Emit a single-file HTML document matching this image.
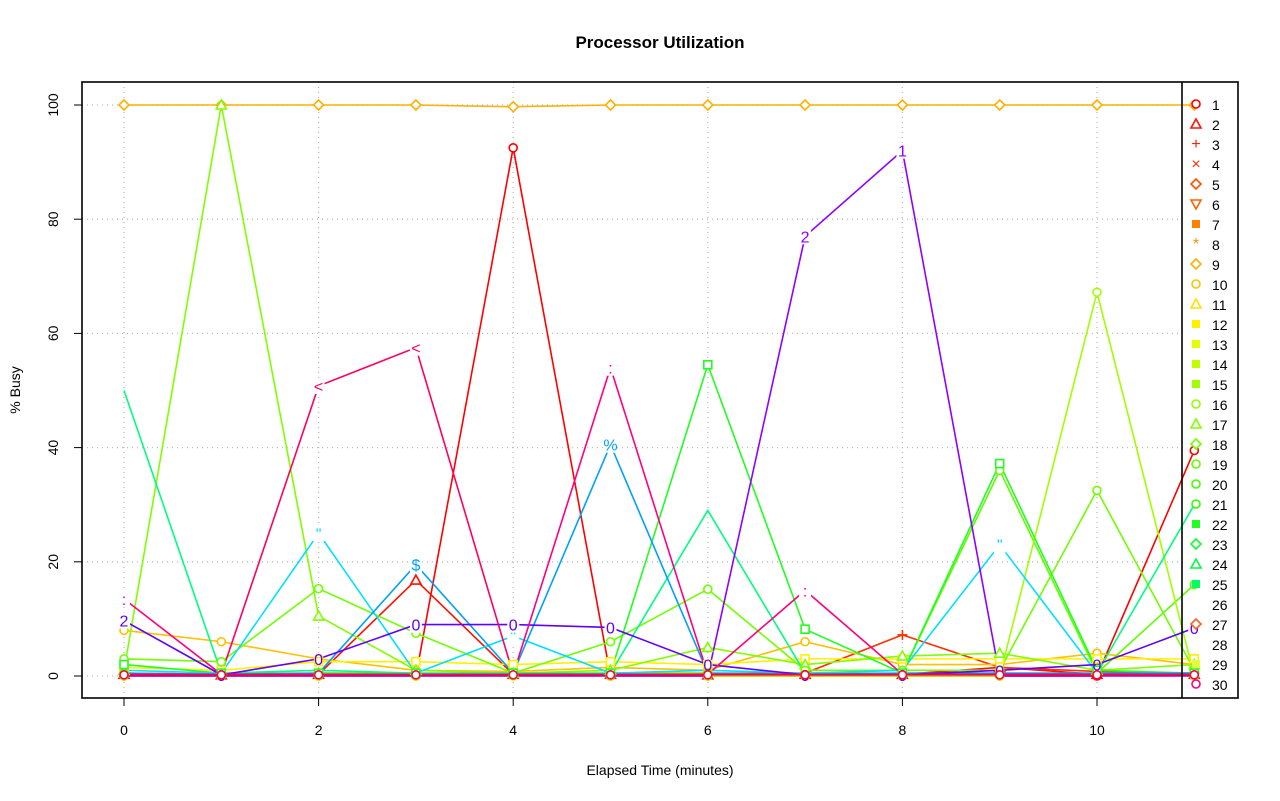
<!DOCTYPE html>
<html><head><meta charset="utf-8"><style>
html,body{margin:0;padding:0;background:#fff;}
svg{display:block;font-family:"Liberation Sans",sans-serif;}
</style></head><body>
<svg width="1280" height="801" viewBox="0 0 1280 801" xmlns="http://www.w3.org/2000/svg">
<rect width="1280" height="801" fill="#fff"/>
<text x="660" y="48" font-size="17" font-weight="bold" text-anchor="middle">Processor Utilization</text>
<text x="660" y="775" font-size="14" text-anchor="middle">Elapsed Time (minutes)</text>
<text transform="translate(20,390) rotate(-90)" font-size="14" text-anchor="middle">% Busy</text>
<g id="grid" stroke="#bbb" stroke-dasharray="1,4" stroke-width="1.3"></g>
<g id="series" fill="none" stroke-width="1.6"></g>
<g id="marks" stroke-width="1.6"></g>
<rect x="82" y="82" width="1156" height="616" fill="none" stroke="#000" stroke-width="1.6"/>
<line x1="1182" y1="82" x2="1182" y2="698" stroke="#000" stroke-width="1.6"/>
<g id="axes" font-size="14" fill="#000"></g>
<g id="legend" font-size="14"></g>
</svg>
<script>
const NS="http://www.w3.org/2000/svg";
const X=t=>124+97.3*t, Y=v=>676-5.71*v;
function el(p,n,a,txt){const e=document.createElementNS(NS,n);for(const k in a)e.setAttribute(k,a[k]);if(txt!==undefined)e.textContent=txt;document.getElementById(p).appendChild(e);return e;}
for(let t=0;t<=10;t+=2){el('grid','line',{x1:X(t),y1:82,x2:X(t),y2:698});
 el('axes','line',{x1:X(t),y1:698,x2:X(t),y2:706,stroke:'#000'});
 el('axes','text',{x:X(t),y:735,'text-anchor':'middle'},t);}
for(let v=0;v<=100;v+=20){el('grid','line',{x1:82,y1:Y(v),x2:1182,y2:Y(v)});
 el('axes','line',{x1:74,y1:Y(v),x2:82,y2:Y(v),stroke:'#000'});
 el('axes','text',{x:0,y:0,transform:`translate(58,${Y(v)}) rotate(-90)`,'text-anchor':'middle'},v);}
const S=[
 ['#FF0000','o',[0,0,0,0,92.5,0,0,0,0,0,0,39.5]],
 ['#FF1000','t',[0.3,0.2,0.3,16.8,0.3,0.3,0.2,0.3,0.3,1.5,0.3,0.3]],
 ['#FF3000','+',[0.5,0.3,0.5,0.5,0.3,0.5,0.5,0.5,7.2,1.5,0.8,0.5]],
 ['#FFB000','d',[100,100,100,100,99.7,100,100,100,100,100,100,100]],
 ['#FFC000','o',[8,6,3,1,0.8,1.5,1,6,2,2,4,2]],
 ['#FFF000','s',[1.5,1,2.5,2.5,2,2.5,2,3,3,3,3,3]],
 ['#80FF00','t',[1,100,10.5,1,0.5,1,5,2,3.5,4,1,2]],
 ['#70FF00','o',[3,2.5,15.3,7.5,0.5,6,15.2,1,1,1,32.5,1]],
 ['#60FF00','o',[0.5,0.3,0.5,0.3,0.3,0.5,0.5,0.3,0.5,36,0.5,16]],
 ['#A0FF00','o',[0,0,0,0,0,0,0,0,0,0,67.2,0]],
 ['#20FF20','s',[2,0.5,0.5,0.5,0.5,0.5,54.5,8.2,0.5,37.2,1,0.5]],
 ['#00FF80','',[50,0.5,1,0.5,0.5,0.5,29,0.5,0.5,0.5,0.5,30]],
 ['#00E0FF','"',[1,0.5,25,0.5,7,0.5,1,0.5,1,23,0.5,0.5]],
 ['#00A0FF',['%','%','%','$','%','%','%','%','%','%','%','%'],[0.5,0.3,0.5,19.5,0.5,40.5,0.5,0.3,0.5,0.5,0.5,0.5]],
 ['#6000FF',['2','0','0','0','0','0','0','0','0','0','0','0'],[9.7,0.2,3,9,9,8.5,2,0.2,0.2,1,2,8.4]],
 ['#9000FF',['2','2','2','2','2','2','2','2','1','2','2','2'],[0,0,0,0,0,0,0,77,92,0,0,0]],
 ['#FF0080',':',[13.5,0.3,0.3,0.3,0.3,54,0.3,15,0.3,0.3,0.3,0.3]],
 ['#FF0060','<',[0.3,0.3,50.8,57.5,0.3,0.3,0.3,0.3,0.3,0.3,0.3,0.3]],
 ['#FF0040','o',[0.2,0.2,0.2,0.2,0.2,0.2,0.2,0.2,0.2,0.2,0.2,0.2]]
];
S.forEach(([c,mm,d])=>{
 el('series','polyline',{points:d.map((v,i)=>X(i)+','+Y(v)).join(' '),stroke:c});
 d.forEach((v,i)=>{const x=X(i),y=Y(v);const m=Array.isArray(mm)?mm[i]:mm;
  if(m==='o')el('marks','circle',{cx:x,cy:y,r:4,fill:'#fff',stroke:c});
  else if(m==='t')el('marks','polygon',{points:`${x},${y-5} ${x-5},${y+4} ${x+5},${y+4}`,fill:'#fff',stroke:c});
  else if(m==='s')el('marks','rect',{x:x-4,y:y-4,width:8,height:8,fill:'#fff',stroke:c});
  else if(m==='d')el('marks','polygon',{points:`${x},${y-5} ${x+5},${y} ${x},${y+5} ${x-5},${y}`,fill:'#fff',stroke:c});
  else if(m==='+'){el('marks','line',{x1:x-5,y1:y,x2:x+5,y2:y,stroke:c});el('marks','line',{x1:x,y1:y-5,x2:x,y2:y+5,stroke:c});}
  else if(m){if(v>3)el('marks','rect',{x:x-6,y:y-8,width:12,height:16,fill:'#fff',stroke:'none'});if(v>3||m==='0')el('marks','text',{x:x,y:y+6,fill:c,'font-size':16,'text-anchor':'middle'},m);}
 });
});
const LC=['#FF0000','#FF1000','#FF2000','#FF3000','#FF5000','#FF6000','#FF8000','#FF9000','#FFB000','#FFC000','#FFE000','#FFF000','#E0FF00','#C0FF00','#A0FF00','#90FF00','#80FF00','#70FF00','#60FF00','#40FF00','#30FF00','#20FF20','#10FF30','#00FF40','#00FF60','#00FF80','#FF6020','#3030FF','#E0FF40','#FF0080'];
const LM=['o','t','+','x','d','v','s','*','d','o','t','s','s','s','s','o','t','d','o','o','o','s','d','t','s','','d','','s','o'];
for(let i=0;i<30;i++){const y=104+20*i,x=1196,c=LC[i],m=LM[i];
 el('legend','text',{x:1212,y:y+6,fill:'#000'},i+1);
 if(m==='o')el('legend','circle',{cx:x,cy:y,r:4,fill:'#fff',stroke:c,'stroke-width':1.6});
 else if(m==='t')el('legend','polygon',{points:`${x},${y-5} ${x-5},${y+4} ${x+5},${y+4}`,fill:'#fff',stroke:c,'stroke-width':1.6});
 else if(m==='v')el('legend','polygon',{points:`${x},${y+5} ${x-5},${y-4} ${x+5},${y-4}`,fill:'#fff',stroke:c,'stroke-width':1.6});
 else if(m==='s')el('legend','rect',{x:x-4,y:y-4,width:8,height:8,fill:c});
 else if(m==='d')el('legend','polygon',{points:`${x},${y-5} ${x+5},${y} ${x},${y+5} ${x-5},${y}`,fill:'#fff',stroke:c,'stroke-width':1.6});
 else if(m){el('legend','text',{x:x,y:y+5,fill:c,'font-size':16,'text-anchor':'middle'},m==='x'?'×':m);}
}
</script>
</body></html>
